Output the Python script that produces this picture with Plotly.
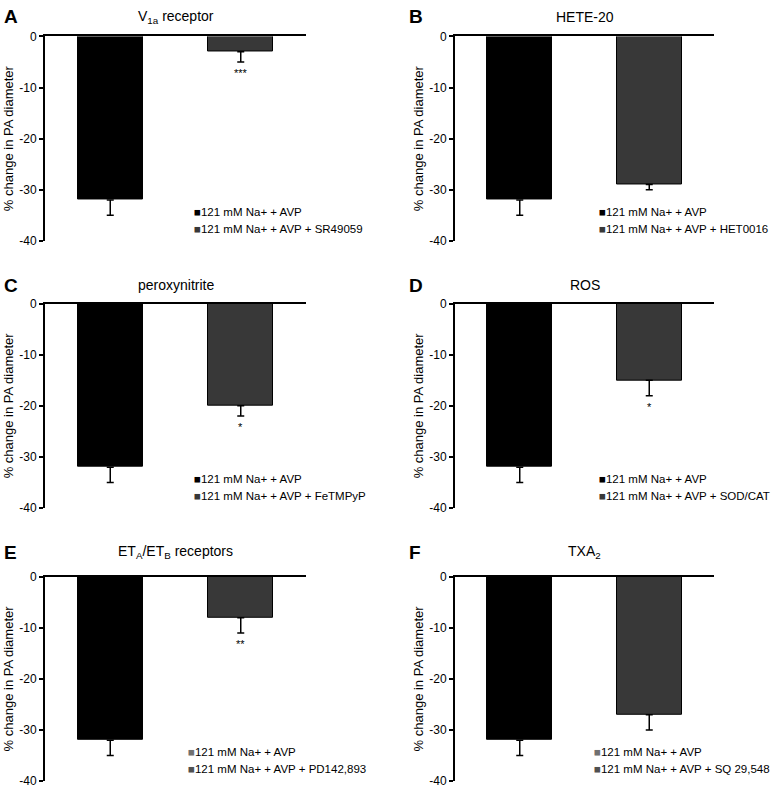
import plotly.graph_objects as go

# ---------------- data ----------------
letters = ["A", "B", "C", "D", "E", "F"]
titles = ["V<sub>1a</sub> receptor", "HETE-20", "peroxynitrite", "ROS",
          "ET<sub>A</sub>/ET<sub>B</sub> receptors", "TXA<sub>2</sub>"]
treatments = ["SR49059", "HET0016", "FeTMPyP", "SOD/CAT", "PD142,893", "SQ 29,548"]
control_label = "121 mM Na+ + AVP"
control_mean = [-32, -32, -32, -32, -32, -32]
control_err = [3, 3, 3, 3, 3, 3]
treat_mean = [-3, -29, -20, -15, -8, -27]
treat_err = [2, 1, 2, 3, 3, 3]
significance = ["***", "", "*", "*", "**", ""]
y_ticks = [0, -10, -20, -30, -40]
y_ticktext = ["0", "-10", "-20", "-30", "-40"]
y_title = "% change in PA diameter"

# ---------------- styling / layout ----------------
W, H = 779, 794
FONT = "Liberation Sans, Arial, sans-serif"
col_px = [(45, 306), (455, 714)]
row_zero_px = [30, 302, 580]
row_title_px = [10, 283, 555]
row_h = 208
legend_xdom = [0.565, 0.55, 0.565, 0.55, 0.54, 0.53]
letter_x_px = [2, 407]
bar_colors = ["#000000", "#383838"]
legend_marker_colors = [["#000000", "#383838"]] * 4 + [["#707070", "#505050"]] * 2

fig = go.Figure()
annotations = []

for i in range(6):
    r, c = divmod(i, 2)
    n = i + 1
    xa = "x" if n == 1 else f"x{n}"
    ya = "y" if n == 1 else f"y{n}"
    xk = "xaxis" if n == 1 else f"xaxis{n}"
    yk = "yaxis" if n == 1 else f"yaxis{n}"
    x0, x1 = col_px[c]
    z = row_zero_px[r]
    fig.add_trace(go.Bar(
        x=[1, 3], y=[control_mean[i], treat_mean[i]], width=1,
        marker=dict(color=bar_colors, line=dict(color="#000000", width=1)),
        error_y=dict(type="data", symmetric=False, array=[0, 0],
                     arrayminus=[control_err[i], treat_err[i]],
                     color="#000000", thickness=1.5, width=3.5),
        xaxis=xa, yaxis=ya, showlegend=False, hoverinfo="skip"))
    fig.layout[xk] = dict(domain=[x0 / W, x1 / W], range=[0, 4], anchor=ya, side="top",
                          showline=True, linecolor="#000", linewidth=2, showticklabels=False,
                          ticks="", showgrid=False, zeroline=False, fixedrange=True)
    fig.layout[yk] = dict(domain=[1 - (z + row_h) / H, 1 - z / H], range=[-40, 0], anchor=xa,
                          showline=True, linecolor="#000", linewidth=2, ticks="outside",
                          ticklen=4, tickwidth=1.5, tickcolor="#000",
                          tickvals=y_ticks, ticktext=y_ticktext, showgrid=False, zeroline=False,
                          tickfont=dict(family=FONT, size=12, color="#000"),
                          title=dict(text=y_title, standoff=3,
                                     font=dict(family=FONT, size=13, color="#000")),
                          fixedrange=True)
    # panel letter
    annotations.append(dict(text=f"<b>{letters[i]}</b>", xref="paper", yref="paper",
                            x=letter_x_px[c] / W, y=1 - row_title_px[r] / H, xanchor="left", yanchor="middle",
                            showarrow=False, font=dict(family=FONT, size=19, color="#000")))
    # title
    annotations.append(dict(text=titles[i], xref="paper", yref="paper",
                            x=(x0 + x1) / 2 / W, y=1 - row_title_px[r] / H, xanchor="center", yanchor="middle",
                            showarrow=False, font=dict(family=FONT, size=14, color="#000")))
    # significance
    if significance[i]:
        annotations.append(dict(text=significance[i], xref=xa, yref=ya, x=3,
                                y=treat_mean[i] - treat_err[i], xanchor="center", yanchor="top",
                                yshift=-3, showarrow=False,
                                font=dict(family=FONT, size=11, color="#000")))
    # legend (text annotations)
    labels = [control_label, f"{control_label} + {treatments[i]}"]
    for k, lab in enumerate(labels):
        annotations.append(dict(
            text=f"<span style='color:{legend_marker_colors[i][k]}'>■</span>{lab}",
            xref=f"{xa} domain", yref=ya, x=legend_xdom[i], y=-34.3 - 3.4 * k,
            xanchor="left", yanchor="middle", showarrow=False,
            font=dict(family=FONT, size=11.5, color="#000")))

fig.update_layout(width=W, height=H, margin=dict(l=0, r=0, t=0, b=0),
                  paper_bgcolor="white", plot_bgcolor="white", bargap=0,
                  annotations=annotations, showlegend=False)
fig.write_html("out.html")
